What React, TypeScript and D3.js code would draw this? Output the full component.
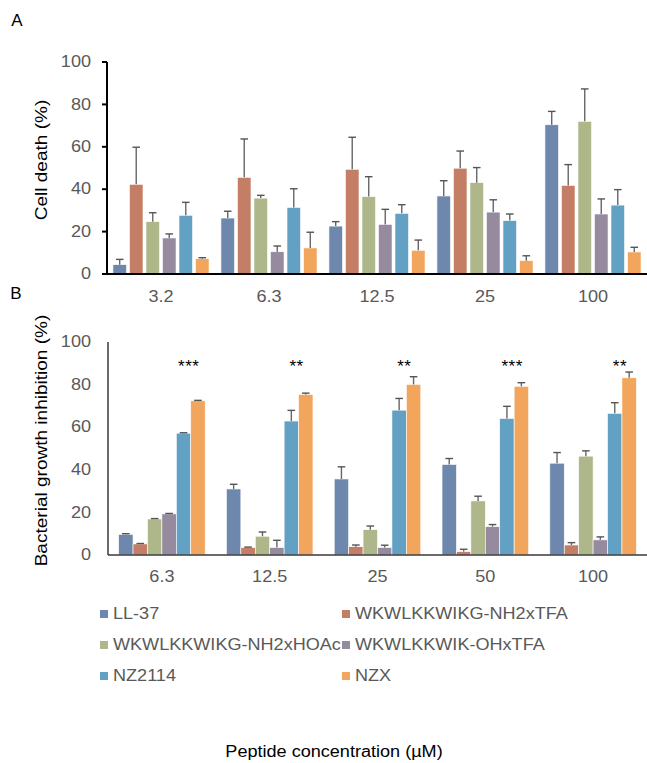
import React from "react";
import * as d3 from "d3";

const seriesNames = [
  "LL-37",
  "WKWLKKWIKG-NH2xTFA",
  "WKWLKKWIKG-NH2xHOAc",
  "WKWLKKWIK-OHxTFA",
  "NZ2114",
  "NZX",
];
const seriesColors = ["#6e88ad", "#c47e66", "#adb78a", "#968a9e", "#62a0c4", "#f2a55c"];

const groupsA = ["3.2", "6.3", "12.5", "25", "100"];
const groupsB = ["6.3", "12.5", "25", "50", "100"];
const yTicks = [0, 20, 40, 60, 80, 100];

// Panel A: cell death (%) — rows = series, cols = concentration
const cellDeath = [
  [4.4, 26.4, 22.6, 36.8, 70.4],
  [42.3, 45.6, 49.4, 49.9, 41.8],
  [24.7, 35.8, 36.5, 43.1, 72.0],
  [17.0, 10.5, 23.4, 29.2, 28.3],
  [27.7, 31.4, 28.6, 25.2, 32.5],
  [7.2, 12.3, 11.2, 6.3, 10.4],
];
const cellDeathErr = [
  [2.5, 3.2, 2.1, 7.2, 6.3],
  [17.5, 18.1, 15.1, 8.1, 9.8],
  [4.2, 1.3, 9.4, 7.1, 15.3],
  [1.9, 2.7, 7.1, 5.8, 7.1],
  [6.1, 8.8, 4.1, 3.1, 7.3],
  [0.5, 7.4, 4.8, 2.3, 2.2],
];

// Panel B: bacterial growth inhibition (%)
const inhibition = [
  [9.7, 31.0, 35.7, 42.5, 43.1],
  [5.2, 3.5, 3.9, 1.6, 4.7],
  [16.9, 8.8, 11.9, 25.4, 46.4],
  [19.3, 3.5, 3.5, 13.3, 7.1],
  [57.2, 62.9, 68.0, 64.1, 66.5],
  [72.4, 75.4, 80.1, 79.2, 83.2],
];
const inhibitionErr = [
  [0.3, 2.2, 5.7, 2.8, 5.0],
  [0.2, 0.2, 0.8, 1.1, 1.1],
  [0.2, 2.0, 1.7, 2.2, 2.5],
  [0.2, 3.4, 1.1, 1.0, 1.4],
  [0.2, 5.0, 5.5, 5.7, 5.0],
  [0.2, 0.6, 3.6, 1.7, 2.7],
];
const significance = ["***", "**", "**", "***", "**"];

const FONT = "'Liberation Sans', Arial, sans-serif";
const GREY = "#595959";
const SX = 1.13;

type TProps = {
  x: number;
  y: number;
  anchor?: "start" | "middle" | "end";
  size?: number;
  fill?: string;
  rotate?: number;
  sx?: number;
  baseline?: string;
  children: React.ReactNode;
  spacing?: number;
};

function T({ x, y, anchor = "start", size = 16, fill = GREY, rotate = 0, sx = SX, baseline = "central", children, spacing }: TProps) {
  return (
    <g transform={`translate(${x},${y}) rotate(${rotate}) scale(${sx},1)`}>
      <text
        x={0}
        y={0}
        textAnchor={anchor}
        dominantBaseline={baseline}
        fontFamily={FONT}
        fontSize={size}
        fill={fill}
        letterSpacing={spacing}
      >
        {children}
      </text>
    </g>
  );
}

type PanelProps = {
  groups: string[];
  values: number[][];
  errors: number[][];
  top: number;
  bottom: number;
  left: number;
  right: number;
  innerPad: number;
  outerPad: number;
  title: string;
  titleX: number;
  axisColor: string;
  axisWidth: number;
  tickMarks: boolean;
  catLabelY: number;
  stars?: string[];
};

function Panel(p: PanelProps) {
  const y = d3.scaleLinear().domain([0, 100]).range([p.bottom, p.top]);
  const x0 = d3.scaleBand<string>().domain(p.groups).range([p.left, p.right]).padding(0);
  const x1 = d3
    .scaleBand<number>()
    .domain(d3.range(seriesNames.length))
    .range([0, x0.bandwidth()])
    .paddingInner(p.innerPad)
    .paddingOuter(p.outerPad);
  const midY = (p.top + p.bottom) / 2;
  return (
    <g>
      {p.groups.map((g, gi) => (
        <g key={g} transform={`translate(${x0(g)},0)`}>
          {seriesNames.map((s, si) => {
            const v = p.values[si][gi];
            const e = p.errors[si][gi];
            const bx = x1(si)!;
            const cx = bx + x1.bandwidth() / 2;
            return (
              <g key={s}>
                <rect
                  x={bx}
                  y={y(v)}
                  width={x1.bandwidth()}
                  height={y(0) - y(v)}
                  fill={seriesColors[si]}
                  stroke="#ffffff"
                  strokeWidth={0.6}
                />
                <line x1={cx} x2={cx} y1={y(v)} y2={y(v + e)} stroke="#666" strokeWidth={1.4} />
                <line x1={cx - 3.8} x2={cx + 3.8} y1={y(v + e)} y2={y(v + e)} stroke="#555" strokeWidth={1.4} />
              </g>
            );
          })}
          {p.stars && (
            <T x={x1(4)! + x1.bandwidth() - 2} y={y(90.5) + 10} anchor="middle" size={17} fill="#000" sx={1} baseline="auto" spacing={0.5}>
              {p.stars[gi]}
            </T>
          )}
          <T x={x0.bandwidth() / 2} y={p.catLabelY} anchor="middle">
            {g}
          </T>
        </g>
      ))}
      {/* axes */}
      <line x1={p.left} x2={p.left} y1={p.top} y2={p.bottom} stroke={p.axisColor} strokeWidth={p.axisWidth} />
      <line x1={p.left} x2={p.right} y1={p.bottom} y2={p.bottom} stroke={p.axisColor} strokeWidth={p.axisWidth} />
      {yTicks.map((t) => (
        <g key={t}>
          {p.tickMarks && (
            <line x1={p.left - 5} x2={p.left} y1={y(t)} y2={y(t)} stroke={p.axisColor} strokeWidth={p.axisWidth} />
          )}
          <T x={91} y={y(t)} anchor="end">
            {t}
          </T>
        </g>
      ))}
      <T x={p.titleX} y={midY - 8} anchor="middle" size={17} fill="#000" rotate={-90} sx={1.12}>
        {p.title}
      </T>
    </g>
  );
}

export default function App() {
  const legendRows = d3.range(Math.ceil(seriesNames.length / 2));
  const legendY = d3.scalePoint<number>().domain(legendRows).range([614, 676]);
  const legendX = [100, 342];
  return (
    <svg width={647} height={763} style={{ position: "absolute", left: 0, top: 0, background: "#fff" }}>
      <rect width={647} height={763} fill="#fff" />
      <T x={17} y={20} anchor="middle" size={17} fill="#000" sx={1}>
        A
      </T>
      <T x={16} y={293} anchor="middle" size={17} fill="#000" sx={1}>
        B
      </T>
      <Panel
        groups={groupsA}
        values={cellDeath}
        errors={cellDeathErr}
        top={62}
        bottom={274}
        left={107}
        right={647}
        innerPad={0.18}
        outerPad={0.36}
        title="Cell death (%)"
        titleX={41}
        axisColor="#000"
        axisWidth={2}
        tickMarks={true}
        catLabelY={297}
      />
      <Panel
        groups={groupsB}
        values={inhibition}
        errors={inhibitionErr}
        top={342}
        bottom={555}
        left={108}
        right={647}
        innerPad={0}
        outerPad={0.737}
        title="Bacterial growth inhibition (%)"
        titleX={41}
        axisColor="#3a3a3a"
        axisWidth={1.5}
        tickMarks={false}
        catLabelY={577}
        stars={significance}
      />
      {seriesNames.map((s, i) => {
        const col = i % 2;
        const row = Math.floor(i / 2);
        return (
          <g key={s} transform={`translate(${legendX[col]},${legendY(row)})`}>
            <rect x={0} y={-4} width={8} height={8} fill={seriesColors[i]} />
            <T x={13} y={0}>
              {s}
            </T>
          </g>
        );
      })}
      <T x={334} y={752} anchor="middle" fill="#000">
        Peptide concentration (µM)
      </T>
    </svg>
  );
}
